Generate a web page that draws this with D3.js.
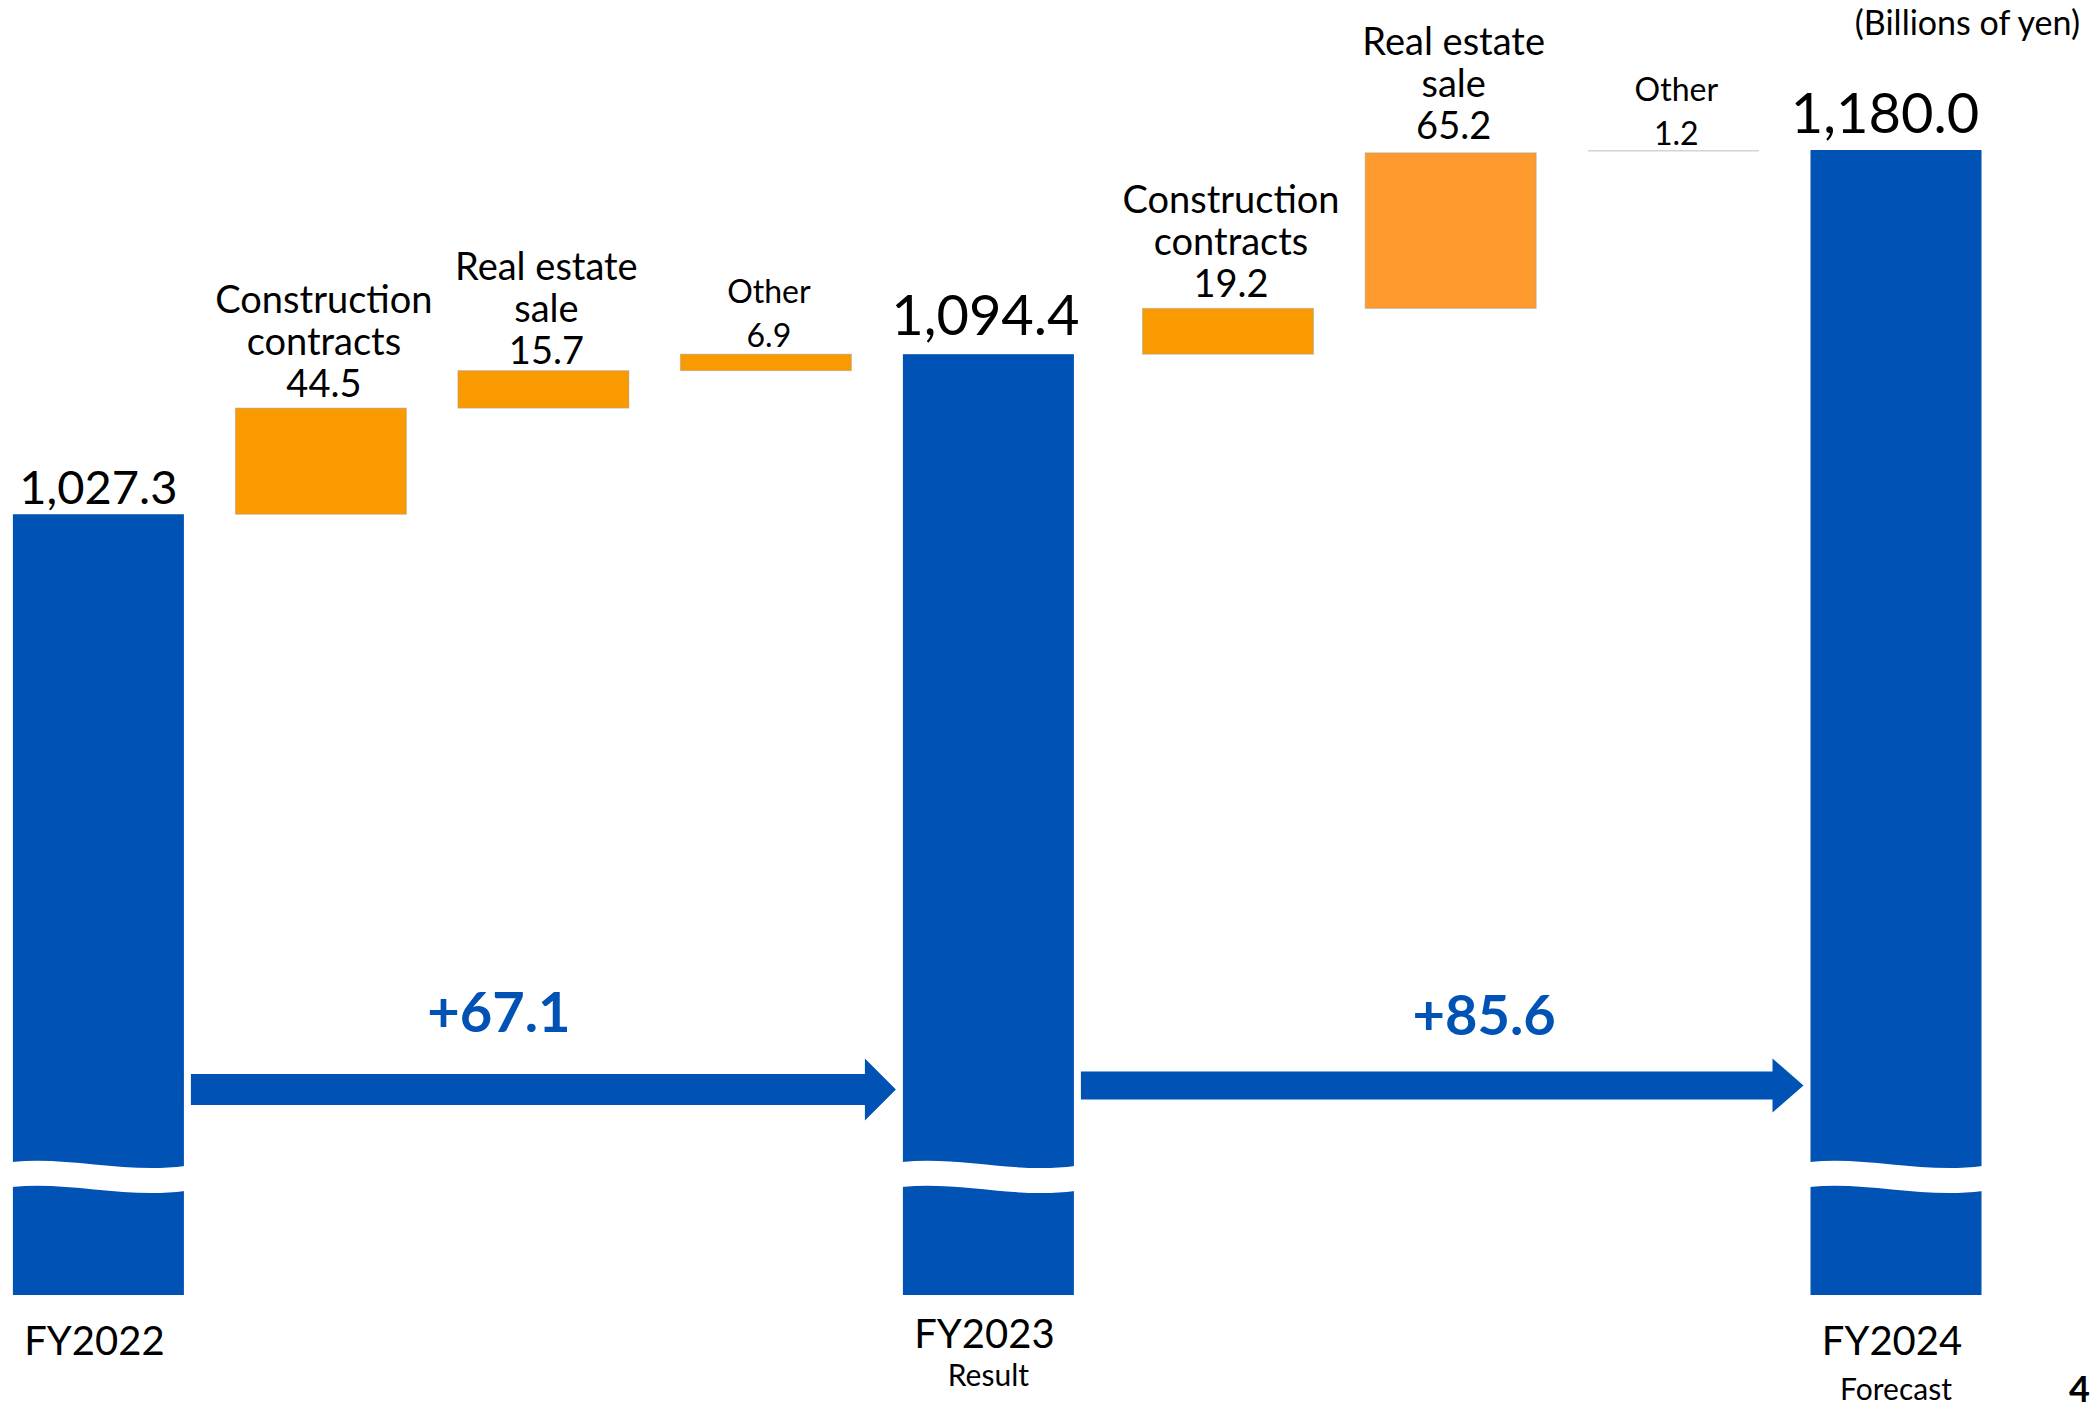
<!DOCTYPE html>
<html>
<head>
<meta charset="utf-8">
<script src="https://cdn.jsdelivr.net/npm/d3@7"></script>
<style>
  html, body { margin: 0; padding: 0; background: #fff; }
  svg { display: block; }
  text { font-family: Lato, "Open Sans", "Noto Sans", sans-serif; fill: #000; }
</style>
</head>
<body>
<svg id="chart" width="2100" height="1410"></svg>
<script>
// ---------------- data ----------------
const stepKeys   = ["FY2022", "cc23", "re23", "ot23", "FY2023", "cc24", "re24", "ot24", "FY2024"];
const stepKinds  = ["total", "delta", "delta", "delta", "total", "delta", "delta", "delta", "total"];
const stepLabels = ["", "Construction|contracts", "Real estate|sale", "Other", "", "Construction|contracts", "Real estate|sale", "Other", ""];
const stepValues = [1027.3, 44.5, 15.7, 6.9, 1094.4, 19.2, 65.2, 1.2, 1180.0];
const valueText  = ["1,027.3", "44.5", "15.7", "6.9", "1,094.4", "19.2", "65.2", "1.2", "1,180.0"];
const periodNames = ["FY2022", "FY2023", "FY2024"];
const periodSub   = ["", "Result", "Forecast"];
const changeValues = [67.1, 85.6];
const changeText   = ["+67.1", "+85.6"];
const unitText = "(Billions of yen)";
const pageNo = "4";

// ---------------- layout ----------------
const svg = d3.select("#chart");
const BLUE = "#0052B4";
const ORANGE = "#F99A00";
const ORANGE2 = "#FE9A2E";
const BAR_W = 171;
const BREAK_VALUE = 700;   // axis broken: bars start here

const x = d3.scaleLinear().domain([0, 4, 5, 8]).range([98.4, 988.4, 1228, 1896]);
const y = d3.scaleLinear().domain([BREAK_VALUE, 1180]).range([1295, 150]);

// compute waterfall
let running = 0;
const steps = stepKeys.map((k, i) => {
  let lo, hi;
  if (stepKinds[i] === "total") { lo = BREAK_VALUE; hi = stepValues[i]; running = stepValues[i]; }
  else { lo = running; hi = running + stepValues[i]; running = hi; }
  return { key: k, i, kind: stepKinds[i], lo, hi, label: stepLabels[i], text: valueText[i] };
});

function fillFor(d) {
  if (d.kind === "total") return BLUE;
  if (d.key === "re24") return ORANGE2;
  if (d.key === "ot24") return "#d4d4d4";
  return ORANGE;
}

// bars
svg.append("g").selectAll("rect").data(steps).join("rect")
  .attr("x", d => x(d.i) - BAR_W / 2)
  .attr("width", BAR_W)
  .attr("y", d => y(d.hi))
  .attr("height", d => d.key === "ot24" ? 1.5 : Math.max(1, y(d.lo) - y(d.hi)))
  .attr("fill", fillFor)
  .attr("stroke", d => d.kind === "delta" && d.key !== "ot24" ? "rgba(160,160,160,0.5)" : "none")
  .attr("stroke-width", 1);

// wavy break in totals
const totals = steps.filter(d => d.kind === "total");
svg.append("g").selectAll("path").data(totals).join("path")
  .attr("fill", "#fff")
  .attr("d", d => {
    const x0 = x(d.i) - BAR_W / 2 - 1, x1 = x(d.i) + BAR_W / 2 + 1, w = x1 - x0;
    const yb = y(BREAK_VALUE) - 133, t = 25;
    return `M${x0},${yb} C${x0 + w * 0.33},${yb - 6} ${x0 + w * 0.66},${yb + 12} ${x1},${yb + 4}`
      + ` L${x1},${yb + 4 + t} C${x0 + w * 0.66},${yb + 12 + t} ${x0 + w * 0.33},${yb - 6 + t} ${x0},${yb + t} Z`;
  });

// total value labels
const totalFont = [47, 56, 56];
const totalGap = [10, 19, 17];
const totalShift = [0, -3, -11];
svg.append("g").selectAll("text").data(totals).join("text")
  .attr("x", (d, j) => x(d.i) + totalShift[j])
  .attr("y", (d, j) => y(d.hi) - totalGap[j])
  .attr("text-anchor", "middle")
  .attr("font-size", (d, j) => totalFont[j])
  .text(d => d.text);

// delta labels
const deltas = steps.filter(d => d.kind === "delta");
const dg = svg.append("g").selectAll("text").data(deltas).join("text")
  .attr("text-anchor", "middle")
  .attr("font-size", d => d.label === "Other" ? 32 : 38);
dg.each(function(d) {
  const lines = d.label.split("|").concat([d.text]);
  const isOther = d.label === "Other";
  const lh = isOther ? 44 : 42;
  const gap = isOther ? (d.key === "ot24" ? 5 : 7) : (d.key === "re23" ? 7 : (d.key === "re24" ? 14 : 11));
  const base = y(d.hi) - gap;
  const t = d3.select(this);
  lines.forEach((ln, k) => {
    t.append("tspan").attr("x", x(d.i) + 3).attr("y", base - (lines.length - 1 - k) * lh).text(ln);
  });
});

// change arrows
const arrowY = [1089.5, 1085.5], shaftH = [15.5, 14], headH = [31, 27];
const arrows = changeValues.map((v, j) => {
  const a = totals[j], b = totals[j + 1];
  return { j, v, xs: x(a.i) + BAR_W / 2 + 7, xt: x(b.i) - BAR_W / 2 - 7 };
});
svg.append("g").selectAll("path").data(arrows).join("path")
  .attr("fill", BLUE)
  .attr("d", d => {
    const cy = arrowY[d.j], s = shaftH[d.j], h = headH[d.j], hb = d.xt - 31;
    return `M${d.xs},${cy - s} L${hb},${cy - s} L${hb},${cy - h} L${d.xt},${cy} L${hb},${cy + h} L${hb},${cy + s} L${d.xs},${cy + s} Z`;
  });
const changeLabelPos = [1.8, 6.15];
const changeLabelGap = [58, 51];
svg.append("g").selectAll("text").data(arrows).join("text")
  .attr("x", d => x(changeLabelPos[d.j]))
  .attr("y", d => arrowY[d.j] - changeLabelGap[d.j])
  .attr("text-anchor", "middle")
  .attr("font-size", 56)
  .attr("font-weight", 700)
  .style("fill", BLUE)
  .text(d => changeText[d.j]);

// period labels
const periodY = [1355, 1348, 1355];
svg.append("g").selectAll("text").data(totals).join("text")
  .attr("x", d => x(d.i) - 4)
  .attr("y", (d, j) => periodY[j])
  .attr("text-anchor", "middle")
  .attr("font-size", 40)
  .text((d, j) => periodNames[j]);
const subY = [0, 1386, 1400];
svg.append("g").selectAll("text").data(totals.slice(1)).join("text")
  .attr("x", d => x(d.i))
  .attr("y", (d, j) => subY[j + 1])
  .attr("text-anchor", "middle")
  .attr("font-size", 30)
  .text((d, j) => periodSub[j + 1]);

// unit & page number
svg.append("text").attr("x", 2080).attr("y", 35).attr("text-anchor", "end")
  .attr("font-size", 34).text(unitText);
svg.append("text").attr("x", 2090).attr("y", 1402).attr("text-anchor", "end")
  .attr("font-size", 36).attr("font-weight", 700).text(pageNo);
</script>
</body>
</html>
